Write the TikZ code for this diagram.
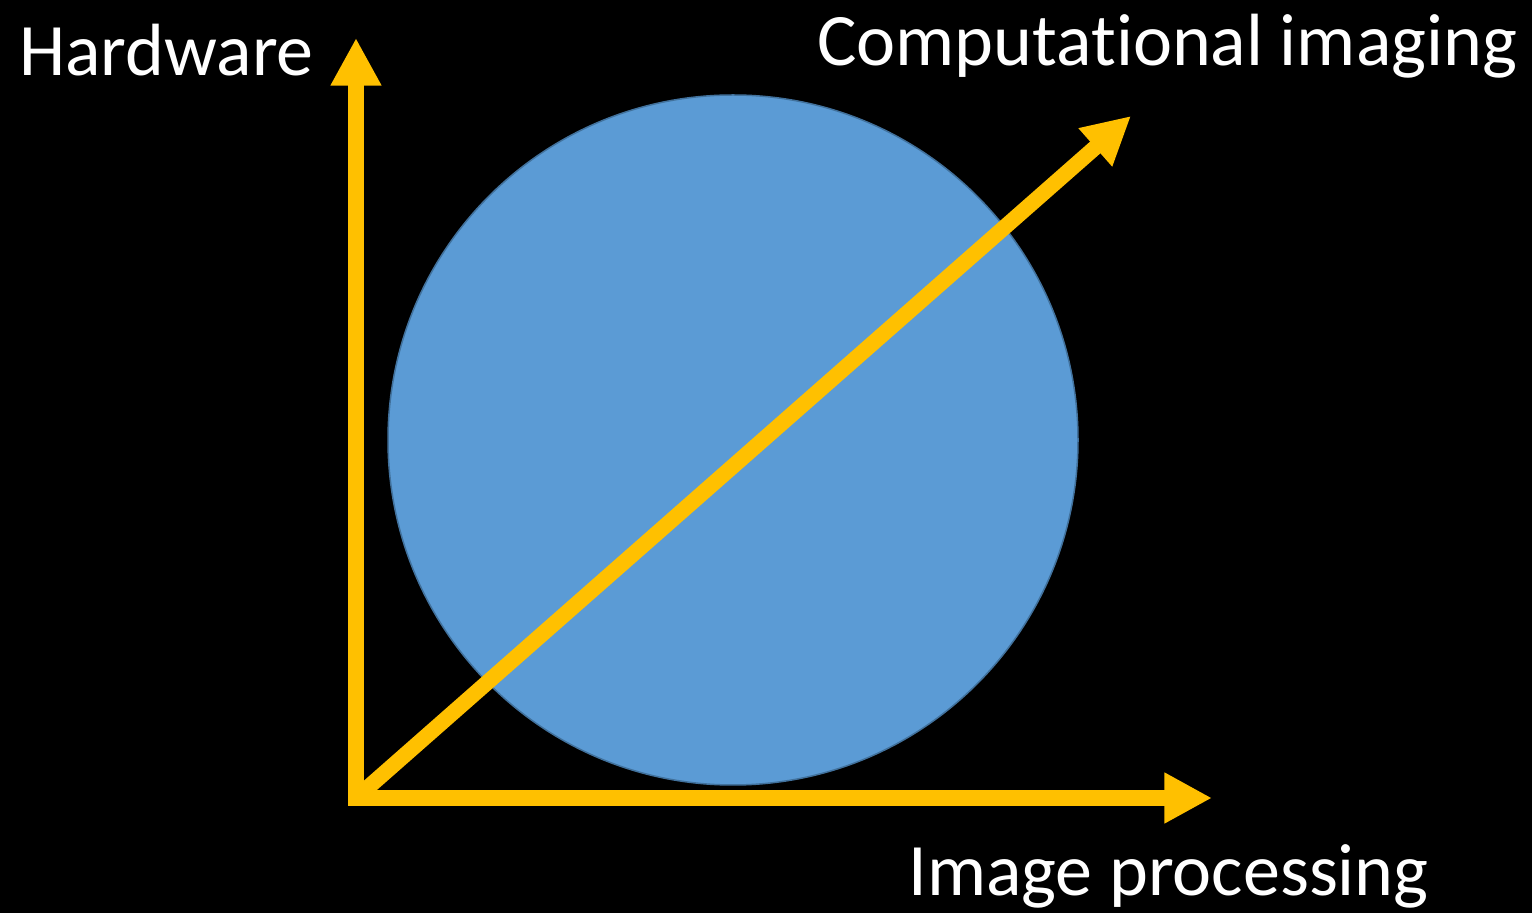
\documentclass[tikz,border=0pt]{standalone}
\usepackage{fontspec}
\setmainfont{Carlito}[Ligatures={NoCommon}]
\usepackage{tikz}
\usetikzlibrary{arrows.meta}
\definecolor{axisgold}{HTML}{FFC000}
\definecolor{diskblue}{HTML}{5B9BD5}
\definecolor{diskedge}{HTML}{41719C}

\begin{document}
\begin{tikzpicture}[
  x=0.5pt,y=-0.5pt,
  >={Triangle[width=23.8pt,length=23.8pt]},
  axis/.style={draw=axisgold,line width=7.8pt,line join=miter},
  disk/.style={circle,fill=diskblue,draw=diskedge,line width=0.75pt,minimum size=345pt,inner sep=0pt},
  lbl/.style={text=white,font=\fontsize{37}{44}\selectfont,anchor=base west,inner sep=0pt},
]
\fill[black] (0,0) rectangle (1532,913);
\node[disk] (ball) at (733,440) {};
\coordinate (orig) at (356,798);
\coordinate (hw) at (356,38);
\coordinate (ip) at (1212,798);
\coordinate (ci) at (1131,116);
\draw[axis,<->] (hw) |- (ip);
\draw[axis,->] (orig) -- (ci);
\node[lbl] (hwlbl) at (19,76) {Hardware};
\node[lbl] (cilbl) at (817,66) {Computational imaging};
\node[lbl] (iplbl) at (908,896) {Image processing};
\end{tikzpicture}
\end{document}
